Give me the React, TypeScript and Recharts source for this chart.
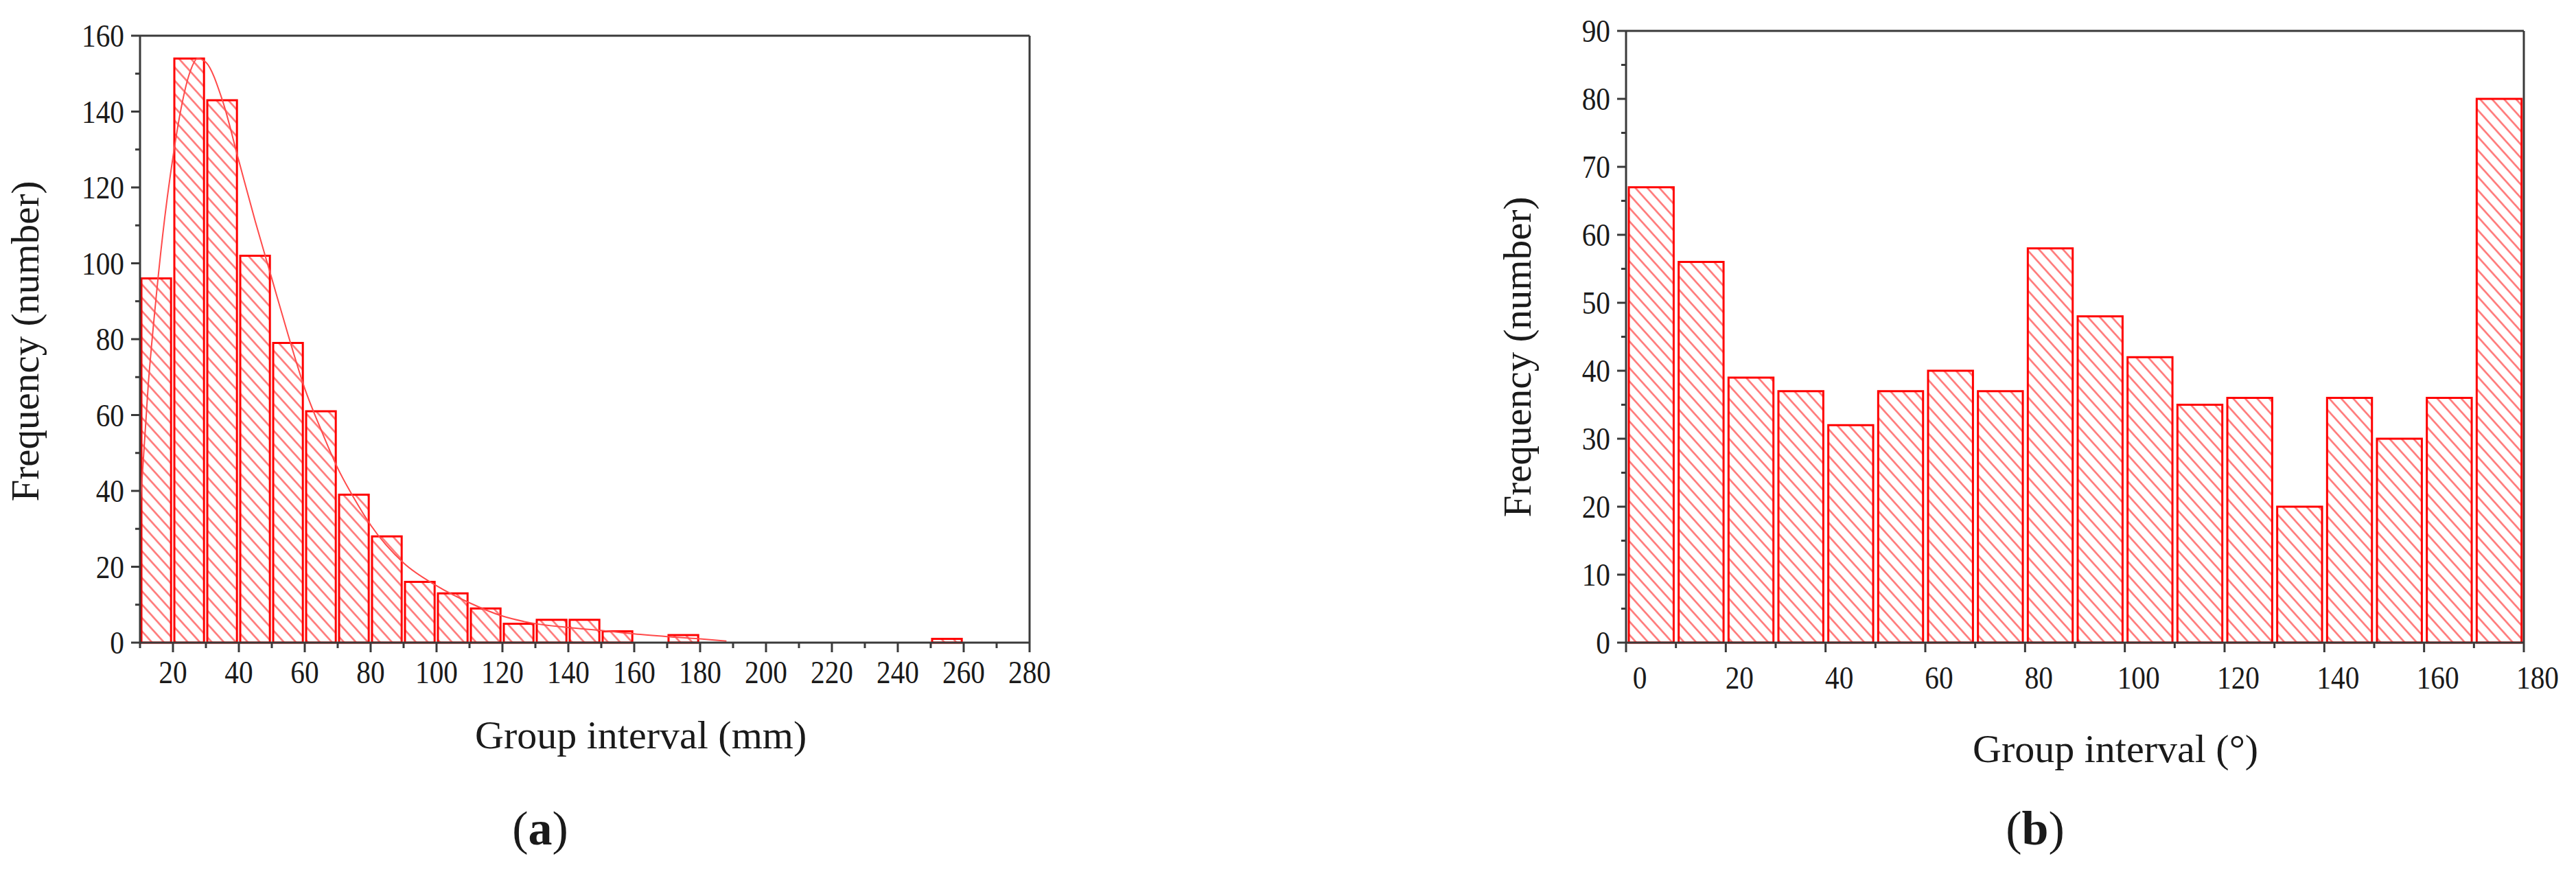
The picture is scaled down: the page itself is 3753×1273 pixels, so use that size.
import React from 'react';
import { ComposedChart, Bar, Line, XAxis, YAxis } from 'recharts';

// ---- data: (a) spacing histogram, 10 mm bins ----
const binStartsA = [10, 20, 30, 40, 50, 60, 70, 80, 90, 100, 110, 120, 130, 140, 150, 160, 170, 180, 190, 200, 210, 220, 230, 240, 250, 260, 270];
const countsA = [96, 154, 143, 102, 79, 61, 39, 28, 16, 13, 9, 5, 6, 6, 3, 0, 2, 0, 0, 0, 0, 0, 0, 0, 1, 0, 0];
// fitted distribution curve drawn over (a)
const fitX = [10, 12.5, 15, 17.5, 20, 22.5, 25, 27.5, 30, 35, 40, 45, 50, 55, 60, 65, 70, 75, 80, 90, 100, 110, 120, 130, 140, 150, 160, 170, 180, 188];
const fitY = [35, 68, 92, 112, 128, 141, 150, 154, 153, 143, 127, 111, 96, 81, 67, 56, 46, 38, 31, 21, 15, 10.5, 7, 5, 4, 3.2, 2.3, 1.6, 1, 0.4];
const xTicksA = [10, 20, 30, 40, 50, 60, 70, 80, 90, 100, 110, 120, 130, 140, 150, 160, 170, 180, 190, 200, 210, 220, 230, 240, 250, 260, 270, 280];
const yTicksA = [0, 10, 20, 30, 40, 50, 60, 70, 80, 90, 100, 110, 120, 130, 140, 150, 160];

// ---- data: (b) orientation histogram, 10 degree bins ----
const binStartsB = [0, 10, 20, 30, 40, 50, 60, 70, 80, 90, 100, 110, 120, 130, 140, 150, 160, 170];
const countsB = [67, 56, 39, 37, 32, 37, 40, 37, 58, 48, 42, 35, 36, 20, 36, 30, 36, 80];
const xTicksB = [0, 10, 20, 30, 40, 50, 60, 70, 80, 90, 100, 110, 120, 130, 140, 150, 160, 170, 180];
const yTicksB = [0, 5, 10, 15, 20, 25, 30, 35, 40, 45, 50, 55, 60, 65, 70, 75, 80, 85, 90];

const BIN = 10;
const FONT = "'Liberation Serif', 'Times New Roman', serif";
const AXIS = '#3a3a3a';
const RED = '#ff0000';
const HATCH = '#ff6a6a';
const TXT = '#1a1a1a';

const rowsA = binStartsA.map((s, i) => ({ x: s + BIN / 2, count: countsA[i] }));
const rowsB = binStartsB.map((s, i) => ({ x: s + BIN / 2, count: countsB[i] }));
const fitRows = fitX.map((x, i) => ({ x, fit: fitY[i] }));

function YTick(props: any) {
  const { x, y, payload, step } = props;
  const v = payload.value;
  const major = v % step === 0;
  return (
    <g>
      <line x1={x - (major ? 13 : 7)} x2={x} y1={y} y2={y} stroke={AXIS} strokeWidth={3} />
      {major && (
        <text transform={`translate(${x - 23},${y + 16}) scale(0.88,1)`} textAnchor="end" fontSize={47} fill={TXT} fontFamily={FONT}>
          {v}
        </text>
      )}
    </g>
  );
}

function XTick(props: any) {
  const { x, y, payload, step, dx = 0, dy = 59 } = props;
  const v = payload.value;
  const major = v % step === 0;
  return (
    <g>
      <line x1={x} x2={x} y1={y} y2={y + (major ? 14 : 8)} stroke={AXIS} strokeWidth={3} />
      {major && (
        <text transform={`translate(${x + dx},${y + dy}) scale(0.88,1)`} textAnchor="middle" fontSize={47} fill={TXT} fontFamily={FONT}>
          {v}
        </text>
      )}
    </g>
  );
}

function Hatch({ id }: { id: string }) {
  return (
    <defs>
      <pattern id={id} patternUnits="userSpaceOnUse" width={13} height={13} patternTransform="rotate(-42)">
        <line x1={6.5} y1={0} x2={6.5} y2={13} stroke={HATCH} strokeWidth={2.4} />
      </pattern>
    </defs>
  );
}

interface HistProps {
  id: string;
  rows: { x: number; count: number }[];
  width: number;
  plot: { left: number; top: number; right: number; bottom: number };
  xDomain: [number, number];
  yDomain: [number, number];
  xTicks: number[];
  yTicks: number[];
  xStep: number;
  yStep: number;
  xLabelDx?: number;
  xLabelDy?: number;
  withFit?: boolean;
}

function Histogram(p: HistProps) {
  const H = 1273;
  const barSize = ((p.plot.right - p.plot.left) / (p.xDomain[1] - p.xDomain[0])) * BIN;
  const frame = { stroke: AXIS, strokeWidth: 3 };
  // axes are 1px thick so that they still render; margins make up the rest
  return (
    <ComposedChart
      width={p.width}
      height={H}
      data={p.rows}
      margin={{ top: p.plot.top - 1, left: p.plot.left - 1, right: p.width - p.plot.right - 1, bottom: H - p.plot.bottom - 1 }}
      barCategoryGap={0}
      barGap={0}
    >
      <Hatch id={p.id} />
      <XAxis
        dataKey="x"
        type="number"
        domain={p.xDomain}
        ticks={p.xTicks}
        interval={0}
        height={1}
        tickSize={0}
        tickMargin={0}
        tickLine={false}
        axisLine={frame}
        tick={(t: any) => <XTick {...t} step={p.xStep} dx={p.xLabelDx ?? 0} dy={p.xLabelDy ?? 59} />}
      />
      <XAxis xAxisId="top" dataKey="x" orientation="top" type="number" domain={p.xDomain} height={1} tick={false} tickLine={false} axisLine={frame} />
      <YAxis
        type="number"
        domain={p.yDomain}
        ticks={p.yTicks}
        interval={0}
        width={1}
        tickSize={0}
        tickMargin={0}
        tickLine={false}
        axisLine={frame}
        tick={(t: any) => <YTick {...t} step={p.yStep} />}
      />
      <YAxis yAxisId="right" orientation="right" type="number" domain={p.yDomain} width={1} tick={false} tickLine={false} axisLine={frame} />
      <Bar dataKey="count" fill={`url(#${p.id})`} stroke={RED} strokeWidth={3} barSize={barSize} isAnimationActive={false} />
      {p.withFit && (
        <Line
          xAxisId="top"
          data={fitRows}
          dataKey="fit"
          type="monotone"
          stroke="#ff4a4a"
          strokeWidth={2}
          dot={false}
          isAnimationActive={false}
        />
      )}
    </ComposedChart>
  );
}

export default function App() {
  return (
    <div style={{ position: 'absolute', left: 0, top: 0, width: 3753, height: 1273, background: '#fff', overflow: 'hidden' }}>
      <div style={{ position: 'absolute', left: 0, top: 0 }}>
        <Histogram
          id="hatchA"
          rows={rowsA}
          width={1800}
          plot={{ left: 204, top: 52, right: 1500, bottom: 936 }}
          xDomain={[10, 280]}
          yDomain={[0, 160]}
          xTicks={xTicksA}
          yTicks={yTicksA}
          xStep={20}
          yStep={20}
          withFit
        />
      </div>
      <div style={{ position: 'absolute', left: 1900, top: 0 }}>
        <Histogram
          id="hatchB"
          rows={rowsB}
          width={1853}
          plot={{ left: 469, top: 45, right: 1777, bottom: 936 }}
          xDomain={[0, 180]}
          yDomain={[0, 90]}
          xTicks={xTicksB}
          yTicks={yTicksB}
          xStep={20}
          yStep={10}
          xLabelDx={20}
          xLabelDy={67}
        />
      </div>
      <svg width={3753} height={1273} style={{ position: 'absolute', left: 0, top: 0, pointerEvents: 'none' }} fontFamily={FONT} fill={TXT}>
        <text x={692} y={1090} fontSize={58}>Group interval (mm)</text>
        <text transform="translate(56,497) rotate(-90)" textAnchor="middle" fontSize={57}>Frequency (number)</text>
        <text x={787} y={1230} textAnchor="middle" fontSize={70}>
          (<tspan fontWeight="bold">a</tspan>)
        </text>
        <text x={2874} y={1110} fontSize={58}>Group interval (°)</text>
        <text transform="translate(2230,520) rotate(-90)" textAnchor="middle" fontSize={57}>Frequency (number)</text>
        <text x={2965} y={1230} textAnchor="middle" fontSize={70}>
          (<tspan fontWeight="bold">b</tspan>)
        </text>
      </svg>
    </div>
  );
}
